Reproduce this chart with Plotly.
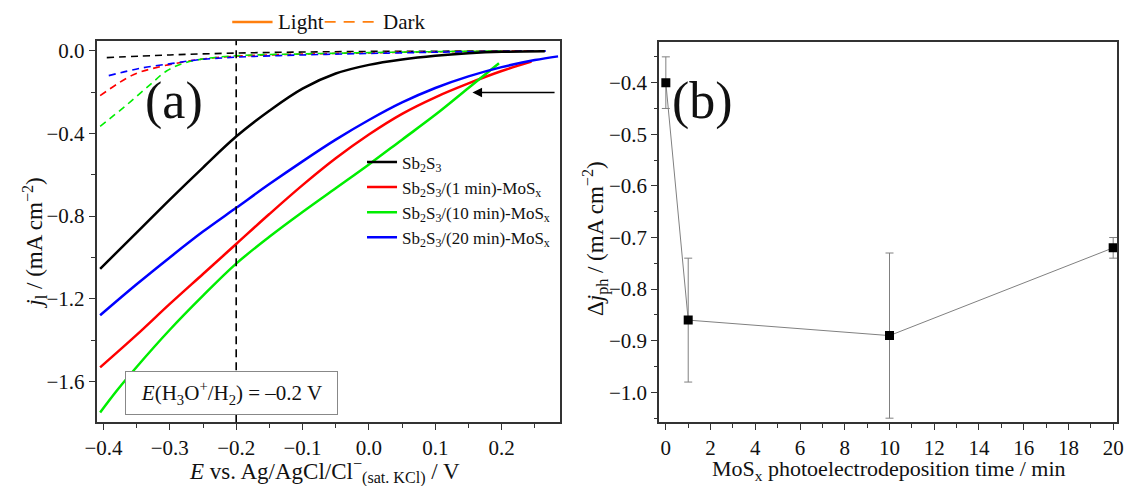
import plotly.graph_objects as go

# ---------------- data: panel (a) ----------------
E_black = [-0.405, -0.35, -0.30, -0.25, -0.20, -0.15, -0.10, -0.05, 0.00, 0.05, 0.10, 0.15, 0.20, 0.265]
j_black = [-1.055, -0.88, -0.72, -0.565, -0.415, -0.29, -0.183, -0.11, -0.068, -0.042, -0.024, -0.012, -0.005, -0.002]

E_red = [-0.405, -0.35, -0.30, -0.25, -0.20, -0.15, -0.10, -0.05, 0.00, 0.05, 0.10, 0.15, 0.20, 0.245]
j_red = [-1.532, -1.375, -1.225, -1.08, -0.935, -0.79, -0.65, -0.52, -0.405, -0.305, -0.225, -0.158, -0.098, -0.052]

E_green = [-0.405, -0.38, -0.35, -0.30, -0.25, -0.20, -0.15, -0.10, -0.05, 0.00, 0.05, 0.10, 0.15, 0.196]
j_green = [-1.75, -1.645, -1.53, -1.35, -1.185, -1.03, -0.9, -0.78, -0.665, -0.55, -0.43, -0.31, -0.18, -0.06]

E_blue = [-0.405, -0.35, -0.30, -0.25, -0.20, -0.15, -0.10, -0.05, 0.00, 0.05, 0.10, 0.15, 0.20, 0.25, 0.285]
j_blue = [-1.28, -1.13, -1.0, -0.875, -0.76, -0.645, -0.535, -0.43, -0.335, -0.25, -0.18, -0.124, -0.079, -0.045, -0.027]

E_black_dark = [-0.395, -0.30, -0.20, -0.10, 0.00, 0.10, 0.20, 0.265]
j_black_dark = [-0.033, -0.02, -0.011, -0.006, -0.003, -0.002, -0.001, -0.001]

E_red_dark = [-0.405, -0.355, -0.315, -0.281, -0.251, -0.20, -0.10, 0.00, 0.10, 0.20, 0.25]
j_red_dark = [-0.217, -0.116, -0.077, -0.055, -0.04, -0.026, -0.016, -0.01, -0.005, -0.002, -0.001]

E_green_dark = [-0.405, -0.365, -0.33, -0.305, -0.281, -0.251, -0.20, -0.10, 0.00, 0.10, 0.20]
j_green_dark = [-0.366, -0.262, -0.165, -0.098, -0.062, -0.04, -0.024, -0.015, -0.009, -0.004, -0.001]

E_blue_dark = [-0.392, -0.345, -0.296, -0.256, -0.20, -0.10, 0.00, 0.10, 0.20, 0.27]
j_blue_dark = [-0.12, -0.085, -0.061, -0.043, -0.031, -0.02, -0.013, -0.007, -0.003, -0.001]

names = ["Sb<sub>2</sub>S<sub>3</sub>",
         "Sb<sub>2</sub>S<sub>3</sub>/(1 min)-MoS<sub>x</sub>",
         "Sb<sub>2</sub>S<sub>3</sub>/(10 min)-MoS<sub>x</sub>",
         "Sb<sub>2</sub>S<sub>3</sub>/(20 min)-MoS<sub>x</sub>"]
colors = ["#000000", "#ff0000", "#00ee00", "#0000ff"]
key_labels = ["Light", "Dark"]
key_color = "#ff7f0e"

E_ref = -0.2          # E(H3O+/H2)
arrow_j = -0.202      # arrow level
arrow_E = [0.156, 0.282]

# ---------------- data: panel (b) ----------------
t_min = [0, 1, 10, 20]
dj_ph = [-0.40, -0.86, -0.89, -0.72]
dj_err = [0.05, 0.12, 0.16, 0.02]

FONT = "Liberation Serif, Times New Roman, serif"
W, H = 1131, 486

def px(x):
    return x / W

def py(y):
    return 1 - y / H

fig = go.Figure()

light = [(E_black, j_black), (E_red, j_red), (E_green, j_green), (E_blue, j_blue)]
dark = [(E_black_dark, j_black_dark), (E_red_dark, j_red_dark),
        (E_green_dark, j_green_dark), (E_blue_dark, j_blue_dark)]

for (e, j), c in zip(dark, colors):
    fig.add_trace(go.Scatter(x=e, y=j, mode="lines", line=dict(color=c, width=1.6, dash="7px,5px", shape="spline"),
                             showlegend=False, xaxis="x", yaxis="y"))
for (e, j), c, n in zip(light, colors, names):
    fig.add_trace(go.Scatter(x=e, y=j, mode="lines", name=n, line=dict(color=c, width=2.5, shape="spline"),
                             xaxis="x", yaxis="y"))

# panel (b)
fig.add_trace(go.Scatter(x=t_min, y=dj_ph, mode="lines+markers",
                         line=dict(color="#808080", width=1),
                         marker=dict(symbol="square", size=9, color="#000000"),
                         error_y=dict(type="data", array=dj_err, color="#808080", thickness=1, width=4),
                         showlegend=False, xaxis="x2", yaxis="y2"))

minor_common = dict(ticks="outside", ticklen=3.5, tickwidth=1.2, tickcolor="#333333")
axis_common = dict(showline=True, linecolor="#333333", linewidth=1.5, mirror=True,
                   ticks="outside", ticklen=6, tickwidth=1.3, tickcolor="#333333",
                   showgrid=False, zeroline=False,
                   tickfont=dict(family=FONT, size=21, color="#111111"))

fig.update_layout(
    width=W, height=H,
    margin=dict(l=0, r=0, t=0, b=0),
    paper_bgcolor="white", plot_bgcolor="white",
    font=dict(family=FONT, color="#111111"),
    xaxis=dict(domain=[px(86), px(557)], range=[-0.4104, 0.2874], dtick=0.1, tick0=0,
               tickformat=".1f", anchor="y", minor=dict(dtick=0.05, **minor_common), **axis_common),
    yaxis=dict(domain=[py(422), py(39)], range=[-1.7976, 0.0482], dtick=0.4, tick0=0,
               tickformat=".1f", anchor="x", minor=dict(dtick=0.2, **minor_common), **axis_common),
    xaxis2=dict(domain=[px(658), px(1124)], range=[-0.308, 20.176], dtick=2, tick0=0, anchor="y2",
                minor=dict(dtick=1, **minor_common), **axis_common),
    yaxis2=dict(domain=[py(422), py(40)], range=[-1.0579, -0.3209], dtick=0.1, tick0=0,
                tickformat=".1f", anchor="x2", minor=dict(dtick=0.05, **minor_common), **axis_common),
    legend=dict(x=px(356), y=py(143), xanchor="left", yanchor="top",
                bgcolor="rgba(0,0,0,0)", font=dict(family=FONT, size=17, color="#111111"),
                tracegroupgap=0),
)

# reference dashed vertical line
fig.add_shape(type="line", xref="x", yref="y domain", x0=E_ref, x1=E_ref, y0=0, y1=1,
              line=dict(color="#000000", width=1.6, dash="8px,5px"))

# arrow
fig.add_annotation(x=arrow_E[0], y=arrow_j, ax=arrow_E[1], ay=arrow_j, xref="x", yref="y",
                   axref="x", ayref="y", showarrow=True, arrowhead=2, arrowsize=1.2,
                   arrowwidth=1.6, arrowcolor="#000000", text="")

def label(x, y, text, size, angle=0, xanchor="center", **kw):
    fig.add_annotation(x=px(x), y=py(y), xref="paper", yref="paper", showarrow=False,
                       xanchor=xanchor, yanchor="middle", textangle=angle, text=text,
                       font=dict(family=FONT, size=size, color="#111111"), **kw)

# Light / Dark key (top)
fig.add_shape(type="line", xref="paper", yref="paper", x0=px(224), x1=px(265), y0=py(20), y1=py(20),
              line=dict(color=key_color, width=2.5))
label(269, 20, key_labels[0], 21, xanchor="left")
fig.add_shape(type="line", xref="paper", yref="paper", x0=px(318), x1=px(374), y0=py(20), y1=py(20),
              line=dict(color=key_color, width=1.6, dash="11px,8px"))
label(375, 20, key_labels[1], 21, xanchor="left")

# E(H3O+/H2) box
label(223, 393, "<i>E</i>(H<sub>3</sub>O<sup>+</sup>/H<sub>2</sub>) = \u20130.2 V", 21,
      bordercolor="#888888", borderwidth=1, borderpad=4, bgcolor="white", width=203, height=34)

# panel labels
label(165, 99, "(a)", 52)
label(702, 99, "(b)", 52)

# axis titles
label(318, 471, "<i>E</i> vs. Ag/AgCl/Cl<sup>\u2212</sup><sub>(sat. KCl)</sub> / V", 23)
label(22, 242, "<i>j</i><sub>l</sub> / (mA cm<sup>\u22122</sup>)", 23, angle=-90)
label(892, 470, "MoS<sub>x</sub> photoelectrodeposition time / min", 22)
label(593, 238, "\u0394<i>j</i><sub>ph</sub> / (mA cm<sup>\u22122</sup>)", 23, angle=-90)

fig.write_html("out.html")
